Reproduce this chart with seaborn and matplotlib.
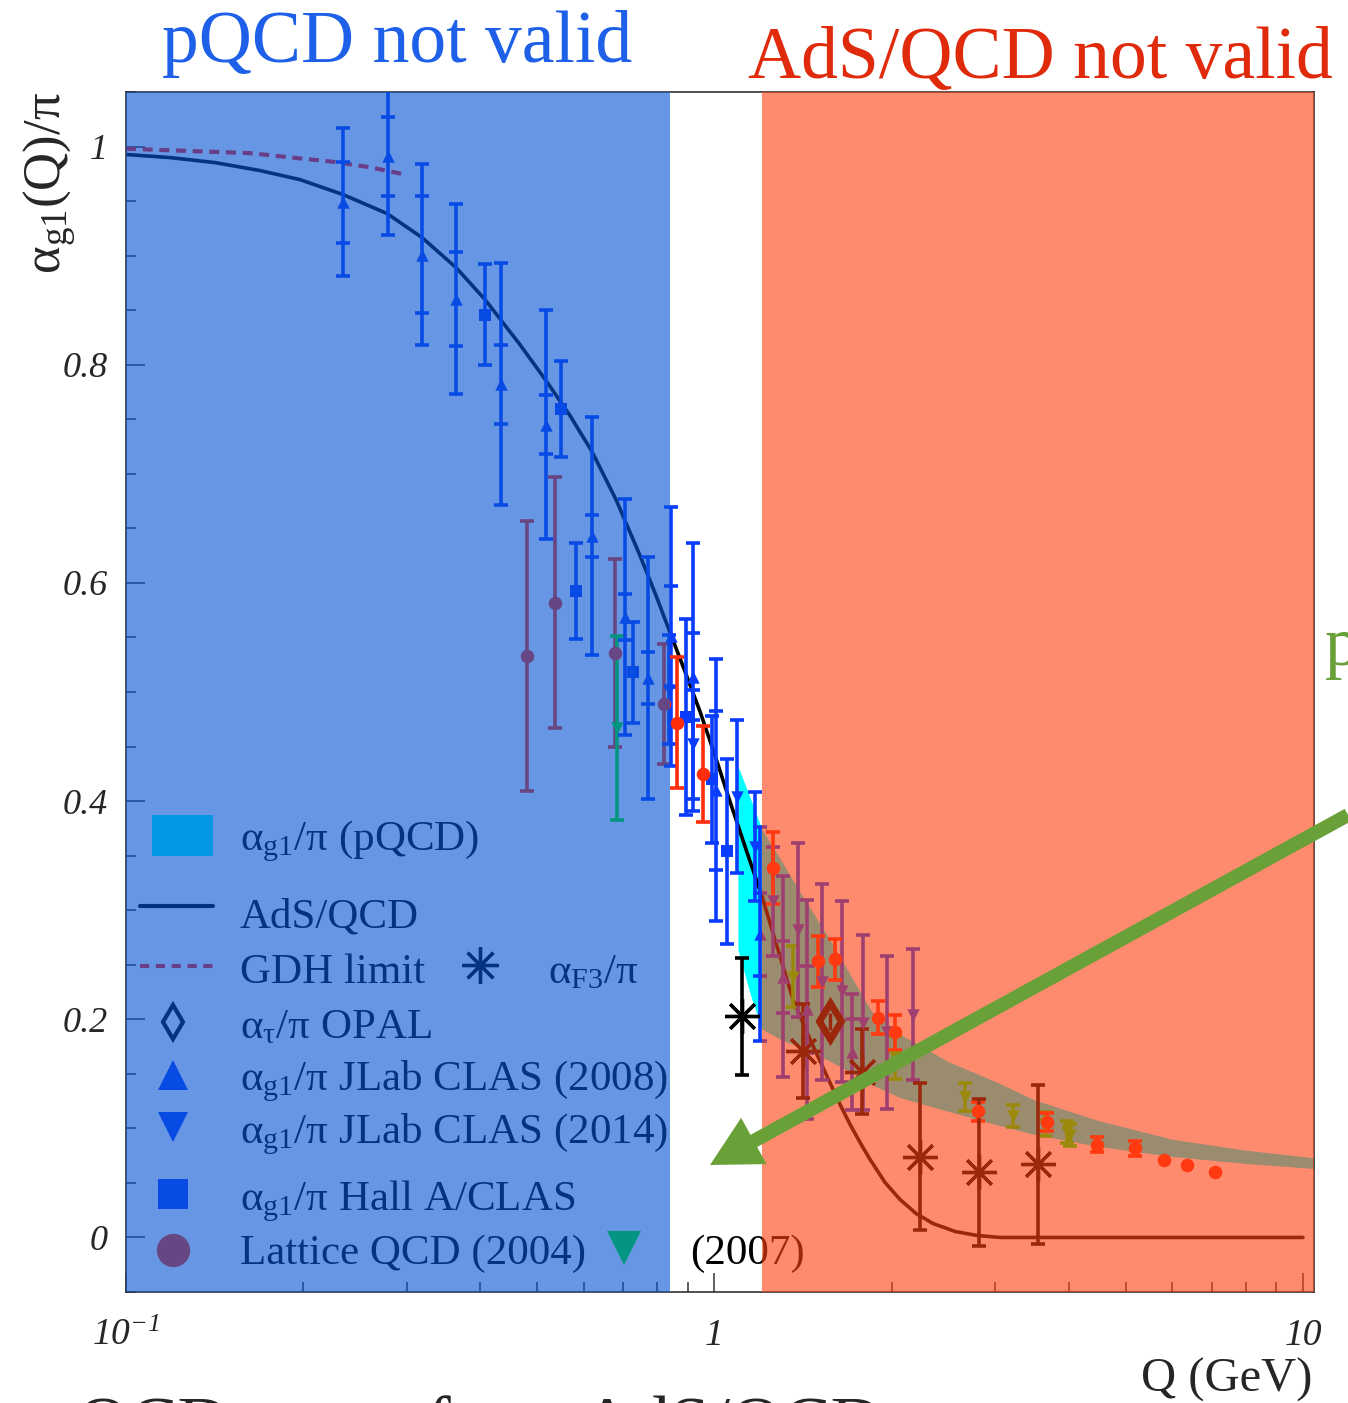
import matplotlib
matplotlib.use("Agg")
import numpy as np
import pandas as pd
import matplotlib.pyplot as plt
import seaborn as sns
from matplotlib.patches import FancyArrowPatch, ArrowStyle, Rectangle
from matplotlib.lines import Line2D
from matplotlib.ticker import FixedLocator, LogLocator, MultipleLocator, NullFormatter

# ------------------------------------------------------------------ data
# AdS/QCD prediction
ads_Q = [0.1000, 0.1188, 0.1416, 0.1689, 0.1975, 0.2337, 0.2777, 0.3184, 0.3637, 0.4074,
         0.4670, 0.5172, 0.5681, 0.6192, 0.6802, 0.7471, 0.7954, 0.8403, 0.8910, 0.9449,
         1.0020, 1.0625, 1.1314, 1.2043, 1.2818, 1.3596, 1.4533, 1.5535, 1.6345, 1.6997,
         1.7674, 1.8380, 1.9489, 2.0665, 2.1998, 2.3509, 2.5627, 2.7927, 3.0558, 10.0]
ads_v = [0.9927, 0.9899, 0.9853, 0.9780, 0.9697, 0.9560, 0.9386, 0.9166, 0.8891, 0.8598,
         0.8185, 0.7855, 0.7534, 0.7204, 0.6764, 0.6251, 0.5885, 0.5545, 0.5188, 0.4821,
         0.4418, 0.3996, 0.3556, 0.3126, 0.2640, 0.2181, 0.1815, 0.1476, 0.1219, 0.1036,
         0.0871, 0.0715, 0.0504, 0.0348, 0.0220, 0.0128, 0.0055, 0.0018, 0.0, 0.0]

# GDH limit
gdh_Q = [0.100, 0.162, 0.225, 0.260, 0.300]
gdh_v = [0.998, 0.994, 0.986, 0.981, 0.974]

# pQCD band
band_Q = [1.096, 1.15, 1.204, 1.30, 1.40, 1.55, 1.70, 1.85, 2.07, 2.5, 3.0, 3.5, 4.5, 6.0, 8.0, 10.44]
band_hi = [0.432, 0.403, 0.374, 0.345, 0.316, 0.278, 0.241, 0.207, 0.186, 0.161, 0.143, 0.126, 0.107, 0.090, 0.080, 0.073]
band_lo = [0.264, 0.223, 0.191, 0.181, 0.174, 0.163, 0.152, 0.140, 0.128, 0.1155, 0.1036, 0.0944, 0.0834, 0.0742, 0.0678, 0.0632]

# JLab CLAS (2008) - triangles up
clas08_Q = [0.234, 0.279, 0.318, 0.364, 0.434, 0.517, 0.619, 0.705, 0.771, 0.844, 0.919, 1.006, 1.195, 1.307, 1.436, 1.712]
clas08_v = [0.949, 0.991, 0.901, 0.860, 0.782, 0.745, 0.643, 0.569, 0.513, 0.551, 0.514, 0.410, 0.278, 0.239, 0.209, 0.170]
clas08_tot = [0.068, 0.072, 0.083, 0.087, 0.111, 0.105, 0.109, 0.108, 0.111, 0.119, 0.123, 0.120, 0.098, 0.092, 0.100, 0.053]
clas08_stat = [0.037, 0.036, 0.054, 0.043, 0.036, 0.027, 0.019, 0.021, 0.024, 0.046, 0.040, 0.073, 0.038, 0.033, 0.040, 0.030]

# JLab CLAS (2014) - triangles down
clas14_Q = [0.836, 0.919, 1.09, 1.17, 1.257, 1.387, 1.523, 1.647, 1.788, 1.964, 2.175]
clas14_v = [0.502, 0.452, 0.404, 0.358, 0.308, 0.282, 0.234, 0.2255, 0.197, 0.188, 0.204]
clas14_err = [0.050, 0.050, 0.070, 0.050, 0.050, 0.080, 0.090, 0.083, 0.080, 0.070, 0.060]

# Hall A/CLAS - squares
hall_Q = [0.407, 0.548, 0.582, 0.727, 0.893, 0.990, 1.050]
hall_v = [0.846, 0.759, 0.593, 0.518, 0.477, 0.420, 0.354]
hall_err = [0.046, 0.044, 0.044, 0.046, 0.090, 0.058, 0.085]

# Lattice QCD (2004) - circles
lat_Q = [0.480, 0.536, 0.678, 0.822]
lat_v = [0.533, 0.582, 0.536, 0.489]
lat_err = [0.124, 0.115, 0.086, 0.055]

# other alpha_g1 data - circles
dot_Q = [0.864, 0.956, 1.257, 1.50, 1.603, 1.896, 2.026, 2.804, 3.673, 4.467, 5.18]
dot_v = [0.472, 0.425, 0.339, 0.253, 0.255, 0.2016, 0.188, 0.1155, 0.106, 0.085, 0.0816]
dot_err = [0.060, 0.044, 0.033, 0.023, 0.019, 0.015, 0.016, 0.009, 0.008, 0.007, 0.007]
dot2_Q = [5.806, 6.353, 7.088]
dot2_v = [0.0706, 0.066, 0.0596]

# (2007) - triangles down
g07_Q = [0.683, 1.357, 2.03, 2.666, 3.215, 3.64, 3.972, 4.02]
g07_v = [0.467, 0.239, 0.165, 0.129, 0.111, 0.1036, 0.097, 0.094]
g07_err = [0.084, 0.028, 0.020, 0.013, 0.010, 0.011, 0.010, 0.010]

# alpha_F3 - asterisks
f3_Q = [1.114, 1.414, 1.781, 2.235, 2.815, 3.545]
f3_v = [0.2026, 0.171, 0.152, 0.0742, 0.0596, 0.0669]
f3_err = [0.054, 0.043, 0.039, 0.067, 0.067, 0.0725]

# alpha_tau OPAL
opal_Q = [1.572]
opal_v = [0.198]
opal_err = [0.008]

# regions
pqcd_bad = (0.1, 0.841)
ads_bad = (1.205, 10.44)

# ------------------------------------------------------------------ style
sns.set_theme(style="white")
plt.rcParams["font.family"] = ["Liberation Serif", "DejaVu Serif"]
plt.rcParams["mathtext.fontset"] = "custom"
plt.rcParams["mathtext.rm"] = "Liberation Serif"
plt.rcParams["mathtext.it"] = "Liberation Serif:italic"
plt.rcParams["mathtext.default"] = "regular"

W, H = 1348, 1403
fig = plt.figure(figsize=(W / 100, H / 100), dpi=100)
fig.patch.set_facecolor("white")
ax = fig.add_axes([126 / W, 1 - 1292 / H, 1188 / W, 1200 / H])
ax.set_facecolor("white")
ax.set_xscale("log")
ax.set_xlim(0.1, 10.44)
ax.set_ylim(-0.05, 1.05)

BLUE = "#0a3cff"
RED = "#ff2d0a"
GREEN = "#00fa00"
CYAN = "#00ffff"
GDHC = "#ff1a10"

# band
ax.fill_between(band_Q, band_lo, band_hi, color=CYAN, lw=0, zorder=1)

# curves
sns.lineplot(x=ads_Q, y=ads_v, ax=ax, color="black", lw=2.6, estimator=None,
             sort=False, zorder=2)
sns.lineplot(x=gdh_Q, y=gdh_v, ax=ax, color=GDHC, lw=3, linestyle=(0, (2.4, 1.6)),
             estimator=None, sort=False, zorder=2)

LW = 2.6
CAP = 4.8


def bars(Q, v, err, color, z=3):
    ax.errorbar(Q, v, yerr=err, fmt="none", ecolor=color, elinewidth=LW,
                capsize=CAP, capthick=LW, zorder=z)


def caps(Q, v, err, color, z=3):
    ax.errorbar(Q, v, yerr=err, fmt="none", ecolor=color, elinewidth=0,
                capsize=CAP, capthick=LW, zorder=z)


def pts(Q, v, color, marker, s, z=3.5):
    sns.scatterplot(x=Q, y=v, ax=ax, marker=marker, s=s, color=color,
                    linewidth=0, zorder=z, legend=False)


bars(lat_Q, lat_v, lat_err, RED)
pts(lat_Q, lat_v, RED, "o", 95)

bars(g07_Q, g07_v, g07_err, GREEN)
pts(g07_Q, g07_v, GREEN, "v", 80)

bars(clas08_Q, clas08_v, clas08_tot, BLUE)
caps(clas08_Q, clas08_v, clas08_stat, BLUE)
pts(clas08_Q, clas08_v, BLUE, "^", 80)

bars(clas14_Q, clas14_v, clas14_err, BLUE)
pts(clas14_Q, clas14_v, BLUE, "v", 80)

bars(hall_Q, hall_v, hall_err, BLUE)
pts(hall_Q, hall_v, BLUE, "s", 75)

bars(dot_Q, dot_v, dot_err, RED)
pts(dot_Q, dot_v, RED, "o", 95)
pts(dot2_Q, dot2_v, RED, "o", 95)

bars(f3_Q, f3_v, f3_err, "black")
ax.plot(f3_Q, f3_v, ls="none", marker=(8, 2, 0), ms=25, mew=2.4, color="black", zorder=3.5)

ax.errorbar(opal_Q, opal_v, yerr=opal_err, fmt="none", ecolor="black", elinewidth=2.5,
            capsize=0, zorder=3)
ax.plot(opal_Q, opal_v, ls="none", marker="d", ms=18, mfc="none", mec="black",
        mew=5, zorder=3.6)

# ------------------------------------------------------------------ legend (under overlay)
def axx(px):
    return (px - 126) / 1188


def axy(py):
    return (1292 - py) / 1200


LFS = 31
tr = ax.transAxes
ax.add_patch(Rectangle((axx(152), axy(856)), (213 - 152) / 1188, 41 / 1200,
                       transform=tr, facecolor=CYAN, lw=0, zorder=3))
ax.add_line(Line2D([axx(140), axx(213)], [axy(906)] * 2, transform=tr, color="black",
                   lw=3, zorder=3))
ax.add_line(Line2D([axx(140), axx(213)], [axy(966)] * 2, transform=tr, color=GDHC,
                   lw=3, ls=(0, (2.2, 1.6)), zorder=3))
ax.add_line(Line2D([axx(480)], [axy(965)], transform=tr, marker=(8, 2, 0), ms=26,
                   mew=2.4, color="black", ls="none", zorder=3))
ax.add_line(Line2D([axx(173)], [axy(1022)], transform=tr, marker="d", ms=17, mfc="none",
                   mec="black", mew=3, ls="none", zorder=3))
ax.add_line(Line2D([axx(173)], [axy(1075)], transform=tr, marker="^", ms=22, color=BLUE,
                   mew=0, ls="none", zorder=3))
ax.add_line(Line2D([axx(173)], [axy(1127)], transform=tr, marker="v", ms=22, color=BLUE,
                   mew=0, ls="none", zorder=3))
ax.add_line(Line2D([axx(173)], [axy(1194)], transform=tr, marker="s", ms=22, color=BLUE,
                   mew=0, ls="none", zorder=3))
ax.add_line(Line2D([axx(173)], [axy(1250)], transform=tr, marker="o", ms=24, color=RED,
                   mew=0, ls="none", zorder=3))
ax.add_line(Line2D([axx(624)], [axy(1248)], transform=tr, marker="v", ms=24, color=GREEN,
                   mew=0, ls="none", zorder=3))

legend_rows = [
    (240, 850, "α$_{g1}$/π (pQCD)"),
    (240, 928, "AdS/QCD"),
    (240, 983, "GDH limit"),
    (548, 983, "α$_{F3}$/π"),
    (240, 1038, "α$_{τ}$/π OPAL"),
    (240, 1090, "α$_{g1}$/π JLab CLAS (2008)"),
    (240, 1143, "α$_{g1}$/π JLab CLAS (2014)"),
    (240, 1210, "α$_{g1}$/π Hall A/CLAS"),
    (240, 1264, "Lattice QCD (2004)"),
    (690, 1264, "(2007)"),
]
for px, py, s in legend_rows:
    ax.text(axx(px), axy(py), s, transform=tr, fontsize=LFS, va="baseline", ha="left",
            color="black", zorder=3)

# ------------------------------------------------------------------ overlays
ax.axvspan(*pqcd_bad, facecolor=(7 / 255, 86 / 255, 211 / 255), alpha=0.61, lw=0, zorder=5)
ax.axvspan(*ads_bad, facecolor=(1.0, 66 / 255, 20 / 255), alpha=0.61, lw=0, zorder=5)

# ------------------------------------------------------------------ axes / ticks
ax.xaxis.set_major_locator(FixedLocator([0.1, 1, 10]))
ax.xaxis.set_minor_locator(LogLocator(base=10, subs=np.arange(2, 10), numticks=30))
ax.xaxis.set_major_formatter(NullFormatter())
ax.xaxis.set_minor_formatter(NullFormatter())
ax.yaxis.set_major_locator(FixedLocator([0, 0.2, 0.4, 0.6, 0.8, 1.0]))
ax.yaxis.set_minor_locator(MultipleLocator(0.05))
ax.set_yticklabels(["0", "0.2", "0.4", "0.6", "0.8", "1"], fontstyle="italic", fontsize=26)
ax.tick_params(which="major", direction="in", length=14, width=1.1, color="#333333",
               left=True, bottom=True, top=False, right=False)
ax.tick_params(which="minor", direction="in", length=7, width=1.1, color="#333333",
               left=True, bottom=True, top=False, right=False)
ax.tick_params(axis="y", which="major", pad=13)
for sp in ax.spines.values():
    sp.set_visible(True)
    sp.set_color("#333333")
    sp.set_linewidth(1.2)
ax.set_xlabel("")
ax.set_ylabel("")

xt = ax.get_xaxis_transform()
for q, lab in zip([0.1, 1, 10], ["10$^{-1}$", "1", "10"]):
    ax.text(q, axy(1345), lab, transform=xt, ha="center", va="baseline",
            fontsize=27, fontstyle="italic", clip_on=False)

# ------------------------------------------------------------------ figure texts
fig.text(162 / W, 1 - 62 / H, "pQCD not valid", fontsize=53, color="#1f60e8", va="baseline")
fig.text(748 / W, 1 - 78 / H, "AdS/QCD not valid", fontsize=53, color="#e02a0c", va="baseline")
fig.text(1325 / W, 1 - 665 / H, "pQCD valid", fontsize=50, color="#6aa038", va="baseline")
fig.text(1312 / W, 1 - 1392 / H, "Q (GeV)", fontsize=35, ha="right", va="baseline")
fig.text(50 / W, 1 - 183 / H, "α$_{g1}$(Q)/π", rotation=90, fontsize=38, ha="center", va="center")
fig.text(77 / W, 1 - 1446 / H, "QCD terms from AdS/QCD", fontsize=52, va="baseline")

arrow = FancyArrowPatch((1.0, 1 - 815 / H), (710 / W, 1 - 1165 / H), transform=fig.transFigure,
                        arrowstyle=ArrowStyle("Simple", head_length=36, head_width=38, tail_width=10),
                        mutation_scale=1, color="#6aa038", lw=0, shrinkA=0, shrinkB=0, zorder=10)
fig.add_artist(arrow)

fig.savefig("out.png", dpi=100)
